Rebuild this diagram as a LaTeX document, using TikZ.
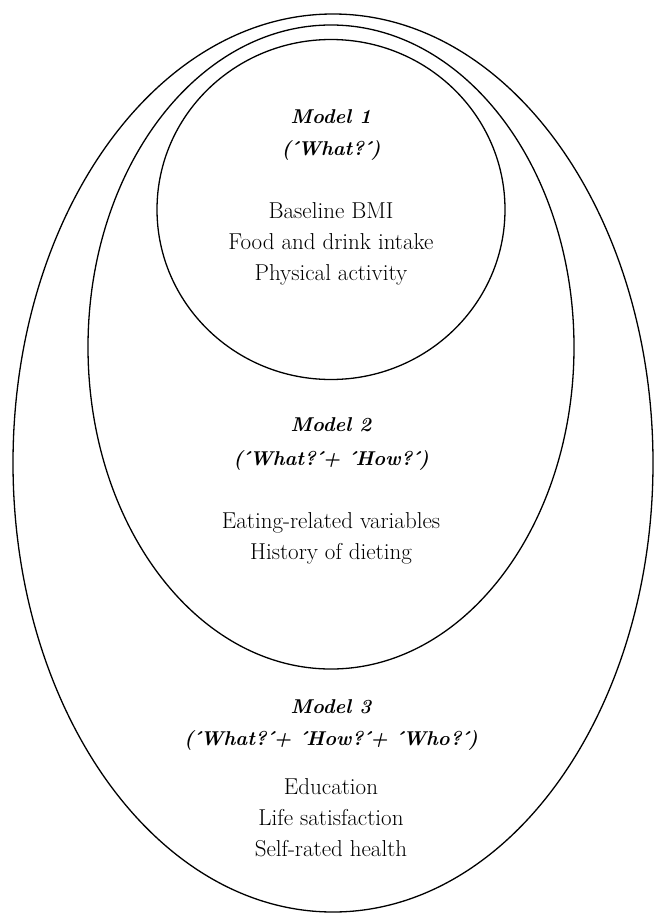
\documentclass[tikz,border=0pt]{standalone}
\usepackage{fontspec}
\usepackage{tikz}

\newcommand{\acu}{\kern-3pt´\kern-2pt}

\begin{document}
\begin{tikzpicture}[
    x=1pt, y=-1pt,
    ring/.style={draw, line width=1.3pt},
    every node/.style={font=\fontsize{23}{31}\selectfont, align=center, inner sep=0pt},
    title/.style={font=\fontsize{20}{30}\selectfont\bfseries\itshape}
]
    \useasboundingbox (0,0) rectangle (654,913);

    % the three nested models
    \draw[ring] (333,463) ellipse [x radius=320, y radius=449];
    \draw[ring] (331,347) ellipse [x radius=243, y radius=322];
    \draw[ring] (331,209.5) ellipse [x radius=174, y radius=170];

    % Model 1
    \node (m1) [title] at (331,117) {Model 1};
    \node (q1) [title] at (331,150) {(\acu What?\acu)};
    \node (v1) at (331,244) {Baseline BMI\\Food and drink intake\\Physical activity};

    % Model 2
    \node (m2) [title] at (331,425) {Model 2};
    \node (q2) [title] at (331,460) {(\acu What?\acu+ \acu How?\acu)};
    \node (v2) at (331,538) {Eating-related variables\\History of dieting};

    % Model 3
    \node (m3) [title] at (331,707) {Model 3};
    \node (q3) [title] at (331,740) {(\acu What?\acu+ \acu How?\acu+ \acu Who?\acu)};
    \node (v3) at (331,818) {Education\\Life satisfaction\\Self-rated health};
\end{tikzpicture}
\end{document}
